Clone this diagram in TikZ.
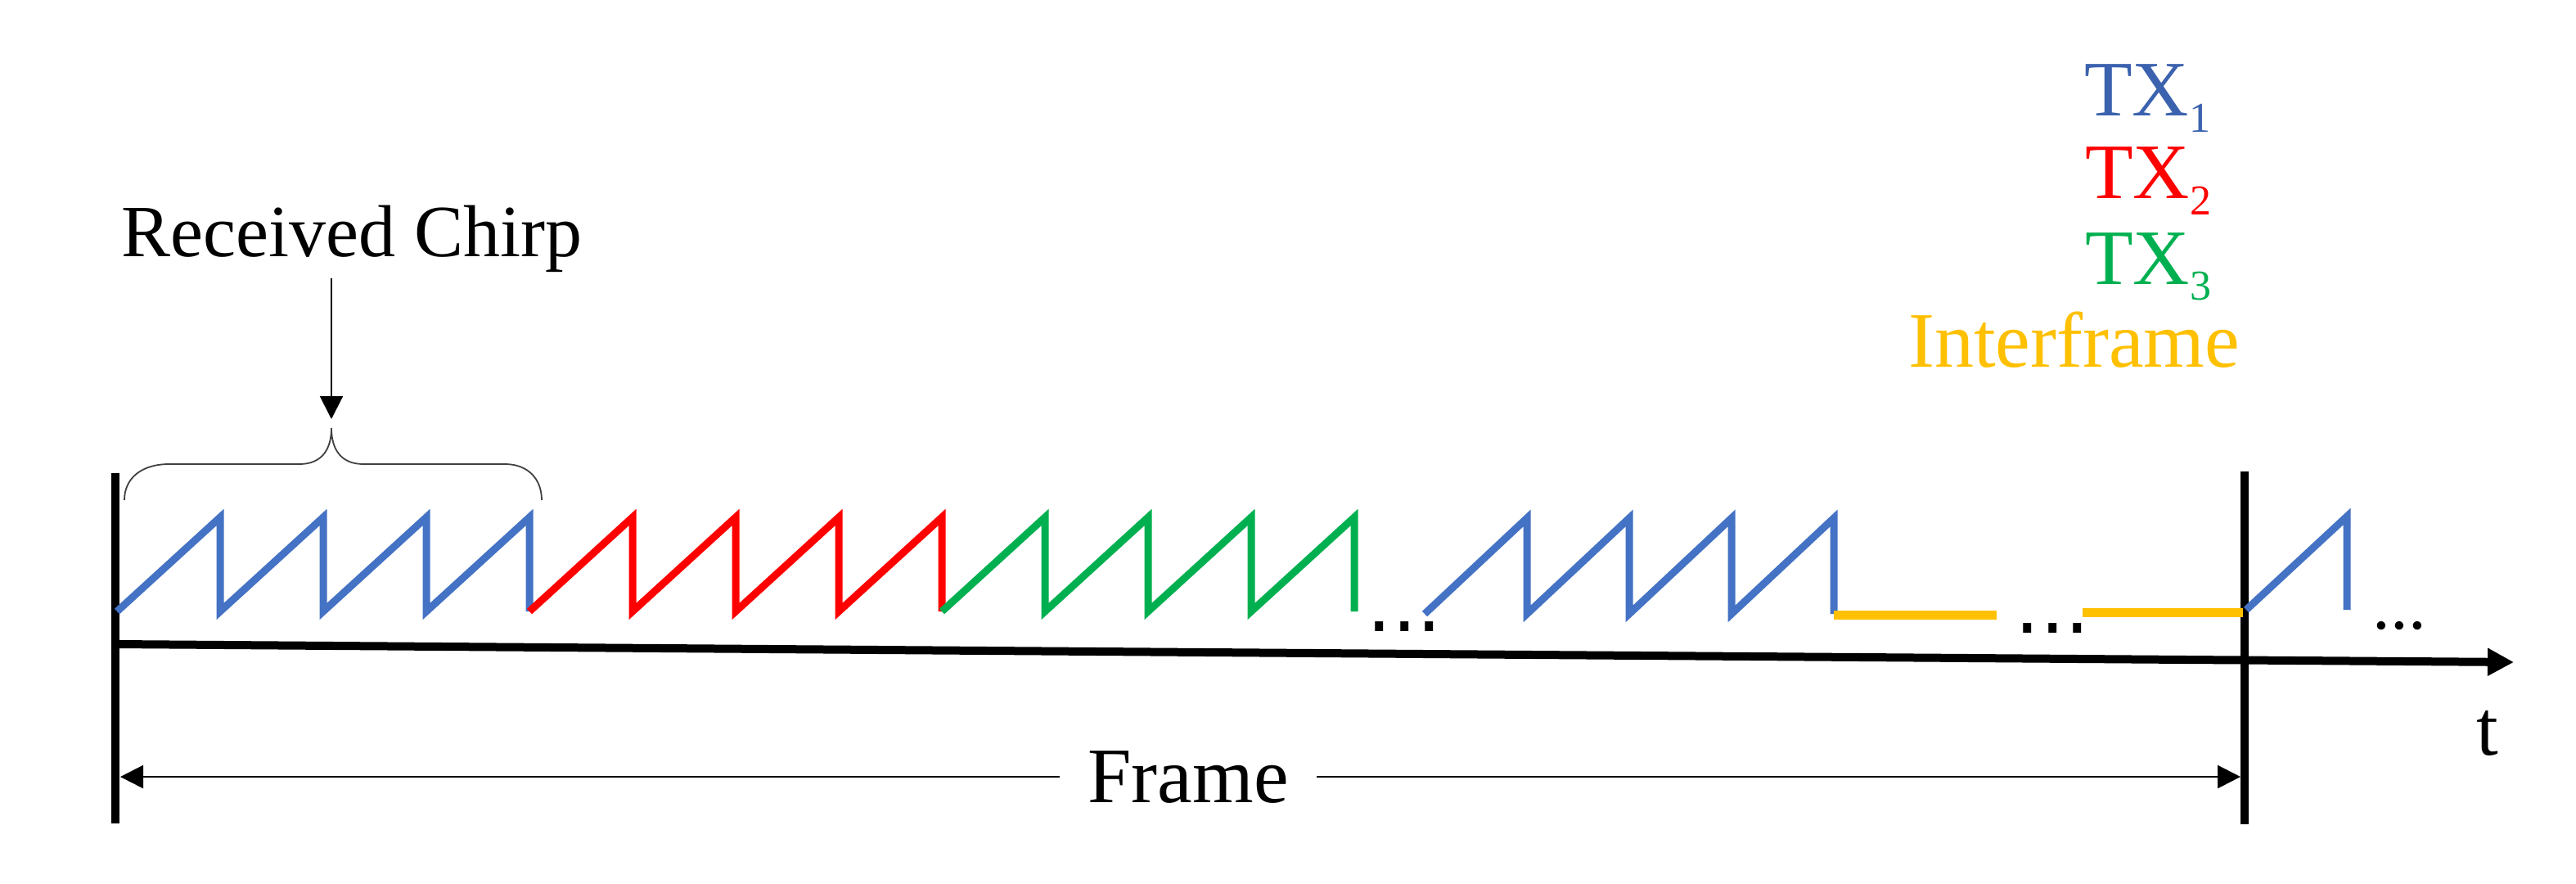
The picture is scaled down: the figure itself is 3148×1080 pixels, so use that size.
\documentclass[tikz,border=0pt]{standalone}
\usepackage{fontspec}
\setmainfont{Liberation Serif}
\newfontfamily\dotfont{DejaVu Sans}
\usetikzlibrary{arrows.meta}
\definecolor{txblue}{HTML}{4472C4}
\definecolor{txred}{HTML}{FF0000}
\definecolor{txgreen}{HTML}{00B050}
\definecolor{txyellow}{HTML}{FFC000}
\definecolor{lblblue}{HTML}{3B62AE}
\newcommand\subdig[1]{\raisebox{-5pt}{\fontsize{13}{13}\selectfont #1}}
\begin{document}
\begin{tikzpicture}[x=0.25pt,y=-0.25pt,
  chirp/.style={line width=2.25pt},
  yline/.style={line width=2.75pt, txyellow},
  barline/.style={line width=2.5pt, black},
  axisline/.style={line width=2.5pt, black, -{Triangle[length=8pt,width=8pt]}},
  farrow/.style={line width=0.6pt, black, -{Triangle[length=7pt,width=7pt]}},
  bracearrow/.style={line width=0.5pt, black, -{Triangle[length=7pt,width=7pt]}},
  bracepath/.style={line width=0.45pt, black!75},
  lbl/.style={inner sep=0pt, font=\fontsize{24}{28}\selectfont},
  leg/.style={inner sep=0pt, font=\fontsize{24}{28}\selectfont},
  dotsq/.style={inner sep=0pt, font=\dotfont\fontsize{24}{28}\selectfont},
  dotrd/.style={inner sep=0pt, font=\fontsize{21.7}{26}\selectfont}]
\useasboundingbox (0,0) rectangle (3148,1080);

% frame bars
\coordinate (lbt) at (141,578); \coordinate (lbb) at (141,1006);
\coordinate (rbt) at (2743,576); \coordinate (rbb) at (2743,1007);
\draw[barline] (lbt) -- (lbb);
\draw[barline] (rbt) -- (rbb);

% time axis
\coordinate (ax0) at (141,787);
\coordinate (ax1) at (3072,809);
\draw[axisline] (ax0) -- (ax1);
\node[lbl, anchor=base west] (t) at (3026,922) {t};

% chirps
\foreach \c/\s in {txblue/143, txred/647, txgreen/1151}{
  \draw[chirp, \c] (\s,747) \foreach \k in {1,...,4}{ -- ++(126,-115) -- ++(0,115) };
}
\draw[chirp, txblue] (1741,750) \foreach \k in {1,...,4}{ -- ++(125,-117) -- ++(0,117) };
\draw[yline] (2241,751) -- (2440,751);
\draw[yline] (2545,748) -- (2741,748);
\draw[chirp, txblue] (2745,745) -- ++(123,-114) -- ++(0,114);

% ellipses
\node[dotsq, anchor=base west] (d1) at (1670,771) {...};
\node[dotsq, anchor=base west] (d2) at (2462,773) {...};
\node[dotrd, anchor=base west] (d3) at (2899,768) {...};

% frame arrow
\coordinate (lbr) at (147,940);
\coordinate (rbl) at (2738,940);
\node[lbl, anchor=base, inner xsep=8.5pt] (frame) at (1452,980) {Frame};
\draw[farrow] (frame.west) -- (frame.west -| lbr);
\draw[farrow] (frame.east) -- (frame.east -| rbl);

% received chirp + brace
\node[inner sep=0pt, anchor=base west, font=\fontsize{22.5}{27}\selectfont] (rc) at (148,313) {Received Chirp};
\coordinate (btip) at (405,523);
\coordinate (rcb) at ([yshift=-1.75pt]rc.south);
\draw[bracearrow] (rcb -| btip) -- ([yshift=2.75pt]btip);
\draw[bracepath] (152,611) .. controls (152,585) and (172,567) .. (207,567) -- (366,567)
  .. controls (394,567) and (405,548) .. (btip)
  .. controls (405,548) and (416,567) .. (444,567) -- (617,567)
  .. controls (645,567) and (662,585) .. (662,611);

% legend
\node[leg, text=lblblue, anchor=base east] (tx1) at (2702,142) {TX\subdig{1}};
\node[leg, text=txred, anchor=base east] (tx2) at (2703,243) {TX\subdig{2}};
\node[leg, text=txgreen, anchor=base east] (tx3) at (2703,347) {TX\subdig{3}};
\node[leg, text=txyellow, anchor=base east] (ifr) at (2738,448) {Interframe};
\end{tikzpicture}
\end{document}
